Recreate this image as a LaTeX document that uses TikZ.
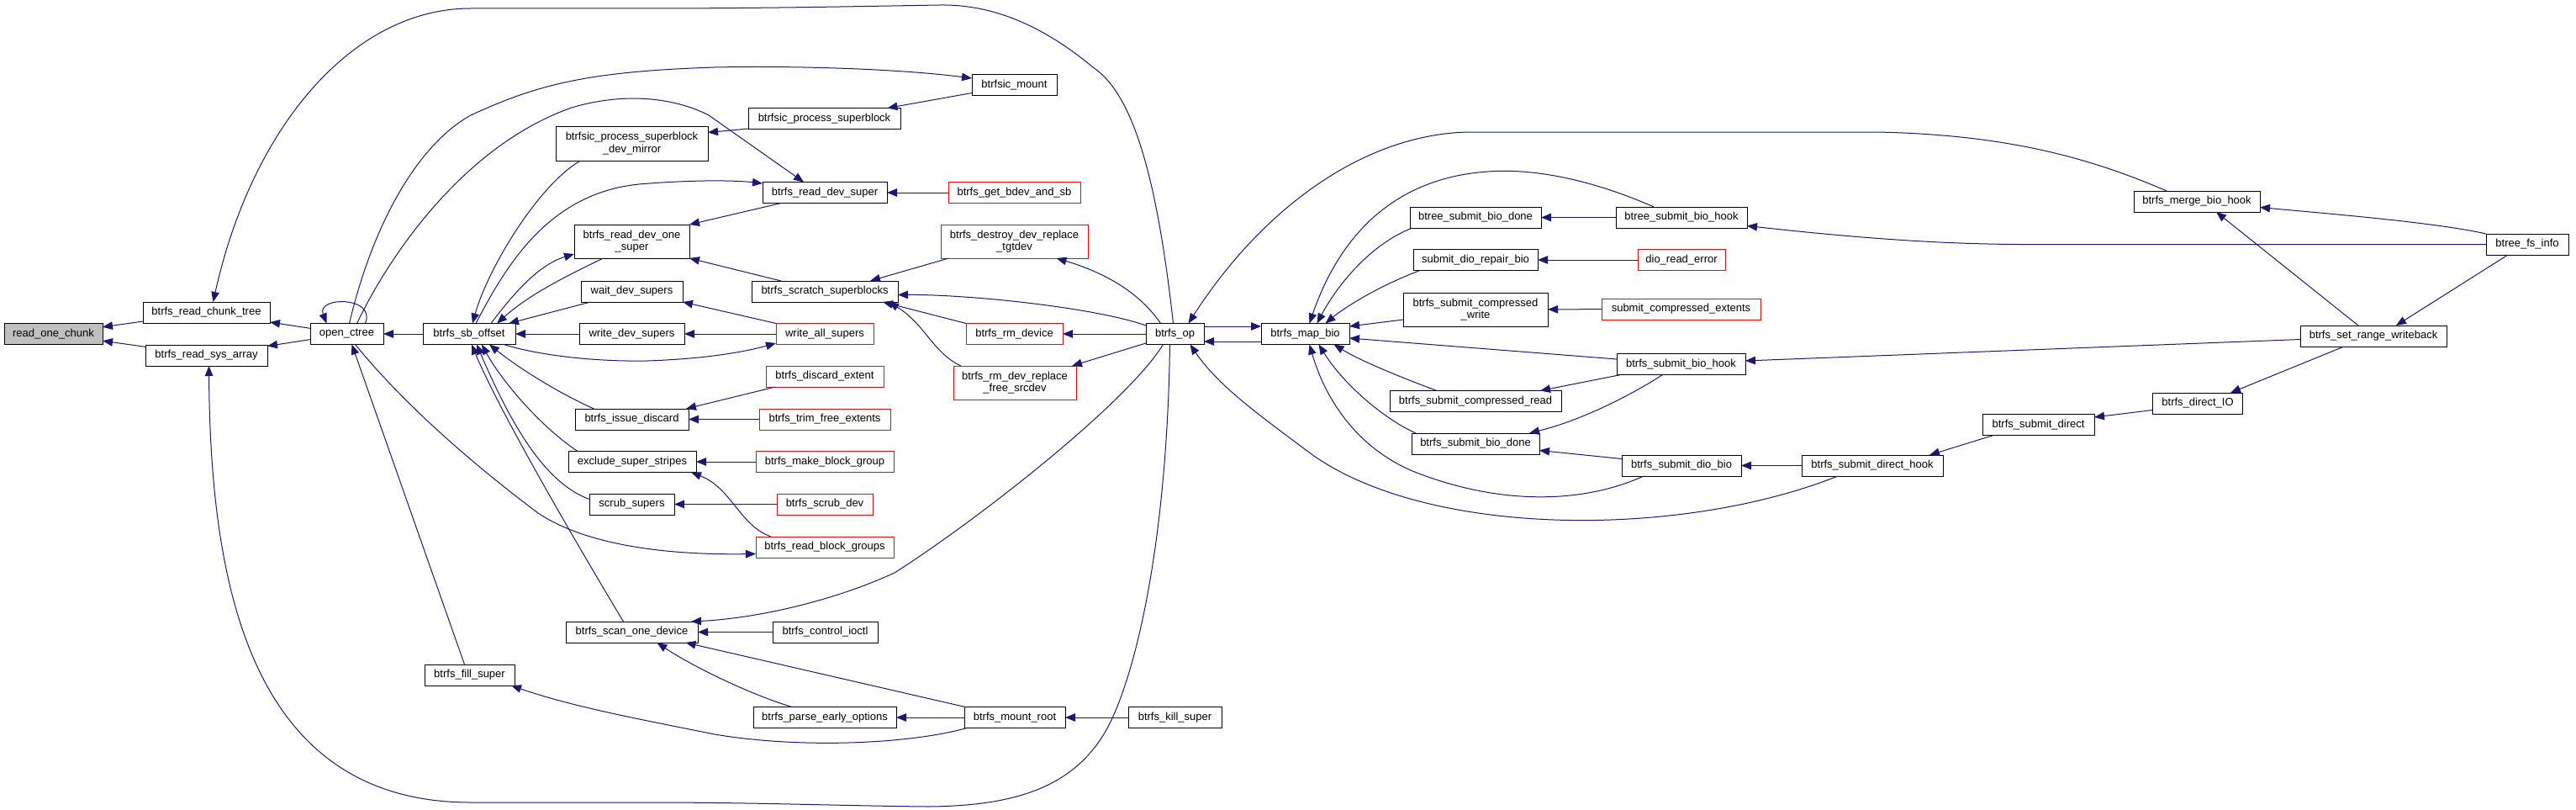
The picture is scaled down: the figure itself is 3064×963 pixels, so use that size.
\documentclass[tikz,border=0pt]{standalone}
\usepackage{fontspec}
\setmainfont{Liberation Sans}
\usetikzlibrary{arrows.meta}
\definecolor{edgec}{HTML}{191970}
\definecolor{rootfill}{HTML}{BFBFBF}
\newcommand{\nfont}{\fontsize{13}{14.5}\selectfont}
\tikzset{
  box/.style={draw=black, line width=1pt, fill=white, inner sep=0pt, outer sep=0pt,
    minimum height=25pt, font=\nfont, align=center},
  redbox/.style={box, draw=red},
  rootbox/.style={box, fill=rootfill},
  edge/.style={draw=edgec, line width=1pt, -{Triangle[length=12pt,width=9.5pt]}},
}
\begin{document}
\begin{tikzpicture}[x=1pt,y=-1pt]
\fill[white] (0,0) rectangle (3064,963);
\useasboundingbox (0,0) rectangle (3064,963);

% nodes
\node[rootbox, minimum width=117pt] (n_roc) at (63.5,397) {read\_one\_chunk};
\node[box, minimum width=151pt] (n_rct) at (245.5,371.5) {btrfs\_read\_chunk\_tree};
\node[box, minimum width=145pt] (n_rsa) at (245.5,422.5) {btrfs\_read\_sys\_array};
\node[box, minimum width=87pt] (n_oc) at (412.5,397) {open\_ctree};
\node[box, minimum width=110pt] (n_sbo) at (558,397) {btrfs\_sb\_offset};
\node[box, minimum width=181pt, minimum height=41pt] (n_dm) at (751.5,170.5) {btrfsic\_process\_superblock\\\_dev\_mirror};
\node[box, minimum width=137pt, minimum height=40pt] (n_rdos) at (751.5,287) {btrfs\_read\_dev\_one\\\_super};
\node[box, minimum width=121pt] (n_wds) at (751.5,346.5) {wait\_dev\_supers};
\node[box, minimum width=125pt] (n_wrds) at (751.5,397) {write\_dev\_supers};
\node[box, minimum width=135pt] (n_isd) at (751.5,498.5) {btrfs\_issue\_discard};
\node[box, minimum width=152pt] (n_ess) at (752,549) {exclude\_super\_stripes};
\node[box, minimum width=101pt] (n_ss) at (751.5,599.5) {scrub\_supers};
\node[box, minimum width=157pt] (n_sod) at (751.5,751.5) {btrfs\_scan\_one\_device};
\node[box, minimum width=107pt] (n_fs) at (558.5,802.5) {btrfs\_fill\_super};
\node[box, minimum width=101pt] (n_bm) at (1206.5,101) {btrfsic\_mount};
\node[box, minimum width=181pt] (n_bps) at (980.5,141) {btrfsic\_process\_superblock};
\node[box, minimum width=148pt] (n_rds) at (981,229) {btrfs\_read\_dev\_super};
\node[redbox, minimum width=157pt] (n_gbs) at (1206.5,229) {btrfs\_get\_bdev\_and\_sb};
\node[redbox, minimum width=175pt, minimum height=40pt] (n_ddr) at (1206.5,287) {btrfs\_destroy\_dev\_replace\\\_tgtdev};
\node[box, minimum width=174pt] (n_scs) at (981,346.5) {btrfs\_scratch\_superblocks};
\node[redbox, minimum width=116pt] (n_was) at (981,397) {write\_all\_supers};
\node[redbox, minimum width=115pt] (n_rmd) at (1206.5,397) {btrfs\_rm\_device};
\node[box, minimum width=69pt] (n_op) at (1397.5,397) {btrfs\_op};
\node[redbox, minimum width=140pt] (n_de) at (981,447.5) {btrfs\_discard\_extent};
\node[redbox, minimum width=146pt, minimum height=40pt] (n_rdr) at (1207,455) {btrfs\_rm\_dev\_replace\\\_free\_srcdev};
\node[redbox, minimum width=156pt] (n_tfe) at (981,498.5) {btrfs\_trim\_free\_extents};
\node[redbox, minimum width=164pt] (n_mbg) at (981,549) {btrfs\_make\_block\_group};
\node[redbox, minimum width=114pt] (n_sd) at (981,599.5) {btrfs\_scrub\_dev};
\node[redbox, minimum width=164pt] (n_rbg) at (981,650.5) {btrfs\_read\_block\_groups};
\node[box, minimum width=125pt] (n_ci) at (981.5,751.5) {btrfs\_control\_ioctl};
\node[box, minimum width=170pt] (n_peo) at (981,853) {btrfs\_parse\_early\_options};
\node[box, minimum width=120pt] (n_mr) at (1207,853) {btrfs\_mount\_root};
\node[box, minimum width=111pt] (n_ks) at (1397.5,853) {btrfs\_kill\_super};
\node[box, minimum width=105pt] (n_mb) at (1552.5,397) {btrfs\_map\_bio};
\node[box, minimum width=156pt] (n_bsbd) at (1755,258.5) {btree\_submit\_bio\_done};
\node[box, minimum width=156pt] (n_bsbh) at (2000,258.5) {btree\_submit\_bio\_hook};
\node[box, minimum width=148pt] (n_sdrb) at (1755,309) {submit\_dio\_repair\_bio};
\node[redbox, minimum width=104pt] (n_dre) at (2000,309) {dio\_read\_error};
\node[box, minimum width=172pt, minimum height=40pt] (n_scw) at (1755,368) {btrfs\_submit\_compressed\\\_write};
\node[redbox, minimum width=189pt] (n_sce) at (1999.5,367.5) {submit\_compressed\_extents};
\node[box, minimum width=153pt] (n_sbh) at (1999.5,433) {btrfs\_submit\_bio\_hook};
\node[box, minimum width=204pt] (n_scr) at (1755,477) {btrfs\_submit\_compressed\_read};
\node[box, minimum width=152pt] (n_sbd) at (1755,527.5) {btrfs\_submit\_bio\_done};
\node[box, minimum width=142pt] (n_sdb) at (2000,553.5) {btrfs\_submit\_dio\_bio};
\node[box, minimum width=168pt] (n_sdh) at (2227,553.5) {btrfs\_submit\_direct\_hook};
\node[box, minimum width=133pt] (n_sdir) at (2424.5,505) {btrfs\_submit\_direct};
\node[box, minimum width=107pt] (n_dio) at (2614,479.5) {btrfs\_direct\_IO};
\node[box, minimum width=150pt] (n_mbh) at (2613,239.5) {btrfs\_merge\_bio\_hook};
\node[box, minimum width=98pt] (n_bfi) at (3006,290.5) {btree\_fs\_info};
\node[box, minimum width=174pt] (n_srw) at (2823,399.5) {btrfs\_set\_range\_writeback};

% left cluster edges
\draw[edge] (n_rct) -- (n_roc);
\draw[edge] (n_rsa) -- (n_roc);
\draw[edge] (n_oc) -- (n_rct);
\draw[edge] (n_oc) -- (n_rsa);
\draw[edge] (n_sbo) -- (n_oc);
\draw[edge] ([xshift=22pt]n_oc.north) .. controls (448,352) and (376,352) .. ([xshift=-24pt]n_oc.north);
\draw[edge] ([xshift=3pt]n_oc.north) .. controls (445,260) and (500,170) .. (560,137) .. controls (640,100) and (700,85) .. (850,80) .. controls (950,78) and (1070,82) .. ([yshift=8pt]n_bm.west);
\draw[edge] ([xshift=12pt]n_oc.north) .. controls (470,290) and (560,170) .. (680,128) .. controls (740,110) and (800,115) .. (843,137) -- ([xshift=-25pt]n_rds.north);
\draw[edge] ([xshift=8pt]n_sbo.north) .. controls (600,320) and (650,230) .. (760,219) .. controls (820,214) and (870,214) .. ([yshift=11pt]n_rds.west);
\draw[edge] ([xshift=26pt]n_sbo.north) .. controls (610,350) and (640,315) .. ([yshift=-15pt]n_rdos.west);
\draw[edge] ([xshift=-34pt]n_rdos.south) .. controls (670,330) and (630,350) .. ([xshift=33pt]n_sbo.north);
\draw[edge] ([xshift=-61pt]n_dm.south) .. controls (640,220) and (580,320) .. ([xshift=4pt]n_sbo.north);
\draw[edge] ([xshift=-49pt]n_wds.south) -- ([xshift=47pt]n_sbo.north);
\draw[edge] (n_wrds) -- (n_sbo);
\draw[edge] ([xshift=41pt]n_sbo.south) .. controls (650,425) and (720,430) .. (770,429) .. controls (830,427) and (880,420) .. ([yshift=-11pt]n_was.west);
\draw[edge] ([xshift=10pt]n_oc.south) .. controls (480,480) and (560,550) .. (640,610) .. controls (700,650) and (800,660) .. ([yshift=-8pt]n_rbg.west);
\draw[edge] ([xshift=-6pt]n_fs.north) -- ([xshift=6pt]n_oc.south);
\draw[edge] ([xshift=-45pt]n_isd.north) .. controls (670,470) and (620,440) .. ([xshift=24pt]n_sbo.south);
\draw[edge] ([xshift=-65pt]n_ess.north) .. controls (640,505) and (595,450) .. ([xshift=15pt]n_sbo.south);
\draw[edge] ([yshift=6pt]n_ss.west) .. controls (650,575) and (610,510) .. ([xshift=9pt]n_sbo.south);
\draw[edge] ([xshift=-10pt]n_sod.north) .. controls (670,620) and (590,480) .. ([xshift=3pt]n_sbo.south);
\draw[edge] ([xshift=-59pt]n_de.south) -- ([xshift=-3pt]n_isd.north east);
\draw[edge] (n_tfe) -- (n_isd);
\draw[edge] (n_mbg) -- (n_ess);
\draw[edge] ([xshift=-64pt]n_rbg.north) .. controls (880,625) and (870,580) .. ([xshift=-6pt]n_ess.south east);
\draw[edge] (n_sd) -- (n_ss);
\draw[edge] (n_ci) -- (n_sod);
\draw[edge] ([xshift=-39pt]n_peo.north) .. controls (890,825) and (820,790) .. ([xshift=30pt]n_sod.south);
\draw[edge] ([xshift=-59pt]n_mr.north) -- ([xshift=64pt]n_sod.south);
\draw[edge] (n_mr) -- (n_peo);
\draw[edge] ([xshift=-57pt]n_mr.south) .. controls (1080,885) and (950,890) .. (850,873) .. controls (760,855) and (680,840) .. ([xshift=-4pt]n_fs.south east);
\draw[edge] (n_ks) -- (n_mr);
\draw[edge] ([yshift=-12pt]n_bps.west) -- ([yshift=13pt]n_dm.east);
\draw[edge] ([yshift=3pt]n_bm.south west) -- ([xshift=75pt]n_bps.north);
\draw[edge] ([xshift=-52pt]n_rds.south) -- (n_rdos.north east);
\draw[edge] (n_gbs) -- (n_rds);
\draw[edge] ([xshift=-52pt]n_scs.north) -- (n_rdos.south east);
\draw[edge] ([xshift=-78pt]n_ddr.south) -- ([xshift=54pt]n_scs.north);
\draw[edge] (n_rmd.north west) -- ([xshift=69pt]n_scs.south);
\draw[edge] ([xshift=9pt]n_rdr.north west) .. controls (1110,420) and (1100,385) .. ([xshift=76pt]n_scs.south);
\draw[edge] ([yshift=10pt]n_op.west) .. controls (1300,365) and (1150,350) .. ([yshift=-4pt]n_scs.east);
\draw[edge] (n_op) -- (n_rmd);
\draw[edge] ([xshift=-17pt]n_op.north) .. controls (1350,340) and (1300,320) .. ([xshift=50pt]n_ddr.south);
\draw[edge] ([yshift=-11pt]n_op.west) -- ([xshift=-5pt]n_rdr.north east);
\draw[edge] (n_was.north west) -- (n_wds.south east);
\draw[edge] (n_was) -- (n_wrds);

% big curves from btrfs_op
\draw[edge] ([xshift=-2pt]n_op.north) .. controls (1375,200) and (1345,110) .. (1300,80) .. controls (1240,30) and (1180,5) .. (1118,6) .. controls (1000,8) and (900,10) .. (760,10) -- (560,10) .. controls (420,10) and (300,150) .. ([xshift=8pt]n_rct.north);
\draw[edge] ([xshift=-6pt]n_op.south) .. controls (1388,650) and (1350,800) .. (1320,860) .. controls (1280,940) and (1200,958) .. (1104,959) .. controls (1000,958) and (900,954) .. (770,954) -- (560,954) .. controls (300,954) and (250,700) .. ([xshift=3pt]n_rsa.south);
\draw[edge] ([xshift=-14pt]n_op.south) .. controls (1340,480) and (1160,620) .. (1064,681) .. controls (990,715) and (900,735) .. ([xshift=-8pt]n_sod.north east);
\draw[edge] ([xshift=-41pt]n_sdh.south) .. controls (2000,640) and (1700,640) .. (1560,540) .. controls (1500,495) and (1450,460) .. ([xshift=18pt]n_op.south);
\draw[edge] ([yshift=-9pt]n_mb.west) -- ([yshift=-9pt]n_op.east);
\draw[edge] ([yshift=9pt]n_op.east) -- ([yshift=9pt]n_mb.west);
\draw[edge] ([xshift=-36pt]n_mbh.north) .. controls (2480,185) and (2380,160) .. (2232,157) -- (1746,157) .. controls (1620,160) and (1500,250) .. ([xshift=16pt]n_op.north);

% right cluster edges
\draw[edge] ([xshift=-33pt]n_bsbh.north) .. controls (1890,212) and (1820,200) .. (1770,204) .. controls (1650,212) and (1590,290) .. ([xshift=5pt]n_mb.north);
\draw[edge] ([xshift=3pt]n_bsbd.south west) .. controls (1630,290) and (1590,340) .. ([xshift=14pt]n_mb.north);
\draw[edge] ([xshift=8pt]n_sdrb.south west) .. controls (1640,340) and (1600,365) .. ([xshift=24pt]n_mb.north);
\draw[edge] ([yshift=-12pt]n_scw.west) -- ([yshift=9pt]n_mb.east);
\draw[edge] ([yshift=6pt]n_sbh.west) -- ([yshift=-5pt]n_mb.east);
\draw[edge] ([xshift=-46pt]n_scr.north) .. controls (1670,450) and (1620,430) .. ([xshift=34pt]n_mb.south);
\draw[edge] ([xshift=5pt]n_sbd.north west) .. controls (1650,500) and (1600,460) .. ([xshift=16pt]n_mb.south);
\draw[edge] ([xshift=-45pt]n_sdb.south) .. controls (1880,600) and (1780,600) .. (1680,560) .. controls (1610,530) and (1575,470) .. ([xshift=5pt]n_mb.south);
\draw[edge] (n_bsbh) -- (n_bsbd);
\draw[edge] (n_dre) -- (n_sdrb);
\draw[edge] (n_sce) -- (n_scw);
\draw[edge] ([xshift=5pt]n_sbh.south west) -- ([xshift=-25pt]n_scr.north east);
\draw[edge] ([xshift=-22pt]n_sbh.south) .. controls (1940,470) and (1880,500) .. ([xshift=-12pt]n_sbd.north east);
\draw[edge] ([yshift=8pt]n_sdb.west) -- ([yshift=-8pt]n_sbd.east);
\draw[edge] (n_sdh) -- (n_sdb);
\draw[edge] ([xshift=13pt]n_sdir.south west) -- ([xshift=-16pt]n_sdh.north east);
\draw[edge] ([yshift=-8pt]n_dio.west) -- ([yshift=9pt]n_sdir.east);
\draw[edge] ([xshift=-35pt]n_srw.south) -- ([xshift=39pt]n_dio.north);
\draw[edge] ([xshift=-18pt]n_srw.north) -- ([xshift=23pt]n_mbh.south);
\draw[edge] (n_bfi.north west) .. controls (2900,265) and (2780,255) .. ([yshift=-7pt]n_mbh.east);
\draw[edge] ([xshift=-23pt]n_bfi.south) -- ([xshift=27pt]n_srw.north);
\draw[edge] (n_bfi.west) -- (2400,290.5) .. controls (2300,290) and (2200,282) .. ([yshift=-10pt]n_bsbh.east);
\draw[edge] ([yshift=-4pt]n_srw.west) -- ([yshift=4pt]n_sbh.east);
\end{tikzpicture}
\end{document}
